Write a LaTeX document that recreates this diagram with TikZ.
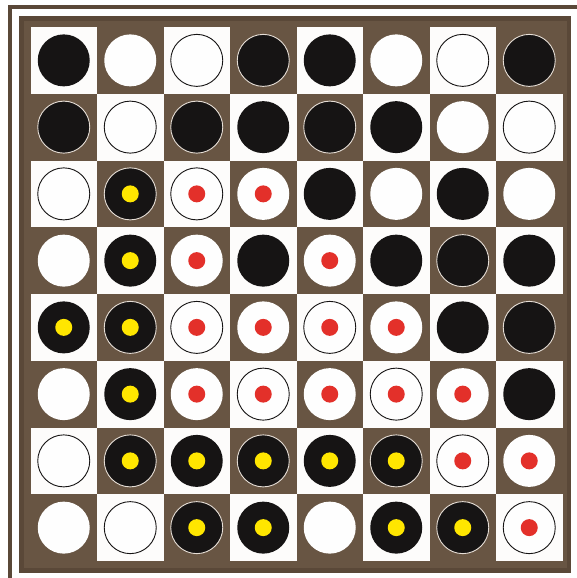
\documentclass[tikz,border=0pt]{standalone}
\definecolor{brd}{HTML}{685543}
\definecolor{brddark}{HTML}{5A4838}
\definecolor{sqbrown}{HTML}{685543}
\definecolor{sqwhite}{HTML}{FDFCFB}
\definecolor{pblack}{HTML}{161414}
\definecolor{pwhite}{HTML}{FEFEFE}
\definecolor{plight}{HTML}{E6DED6}
\definecolor{dyellow}{HTML}{FFE600}
\definecolor{dred}{HTML}{E3302A}
\tikzset{
  disc/.style={circle, inner sep=0pt, minimum size=52pt, line width=0.9pt},
  pieceK0/.style={disc, fill=pblack},
  pieceK1/.style={disc, fill=pblack, draw=plight},
  pieceY0/.style={disc, fill=pblack},
  pieceY1/.style={disc, fill=pblack, draw=plight},
  pieceW0/.style={disc, fill=pwhite, draw=pblack},
  pieceW1/.style={disc, fill=pwhite},
  pieceR0/.style={disc, fill=pwhite, draw=pblack},
  pieceR1/.style={disc, fill=pwhite},
  dotY/.style={circle, inner sep=0pt, minimum size=17pt, fill=dyellow},
  dotR/.style={circle, inner sep=0pt, minimum size=17pt, fill=dred},
}
\begin{document}
\begin{tikzpicture}[x=1pt,y=-1pt]
\useasboundingbox (0,0) rectangle (577,578);
\fill[white] (0,0) rectangle (577,578);
% outer frame lines
\fill[brddark] (7.5,5) rectangle (577,9.5);
\fill[brddark] (7.5,5) rectangle (12,578);
% inner border
\fill[brddark] (19,16) rectangle (571,573);
\fill[brd] (24,21) rectangle (567,568);
% board squares
\def\xo{30.5}\def\yo{27}\def\cw{66.5}\def\ch{66.75}
\fill[sqbrown] (\xo,\yo) rectangle ({\xo+8*\cw},{\yo+8*\ch});
\foreach \r in {0,...,7}{
  \foreach \c in {0,...,7}{
    \pgfmathtruncatemacro\sq{mod(\r+\c,2)}
    \ifnum\sq=0
      \fill[sqwhite] ({\xo+\c*\cw},{\yo+\r*\ch}) rectangle ({\xo+(\c+1)*\cw},{\yo+(\r+1)*\ch});
    \fi
  }
}
% pieces
\def\Yl{Y}\def\Rl{R}
\foreach \rowlist [count=\r from 0] in {
  {K,W,W,K,K,W,W,K},
  {K,W,K,K,K,K,W,W},
  {W,Y,R,R,K,W,K,W},
  {W,Y,R,K,R,K,K,K},
  {Y,Y,R,R,R,R,K,K},
  {W,Y,R,R,R,R,R,K},
  {W,Y,Y,Y,Y,Y,R,R},
  {W,W,Y,Y,W,Y,Y,R}}{
  \foreach \p [count=\c from 0] in \rowlist {
    \pgfmathtruncatemacro\sq{mod(\r+\c,2)}
    \pgfmathsetmacro\px{\xo+(\c+0.5)*\cw}
    \pgfmathsetmacro\py{\yo+(\r+0.5)*\ch}
    \edef\tmp{\noexpand\node[piece\p\sq] (d-\r-\c) at (\px,\py) {};}\tmp
    \edef\pp{\p}
    \ifx\pp\Yl \node[dotY] (dot-\r-\c) at (d-\r-\c.center) {}; \fi
    \ifx\pp\Rl \node[dotR] (dot-\r-\c) at (d-\r-\c.center) {}; \fi
  }
}
\end{tikzpicture}
\end{document}
